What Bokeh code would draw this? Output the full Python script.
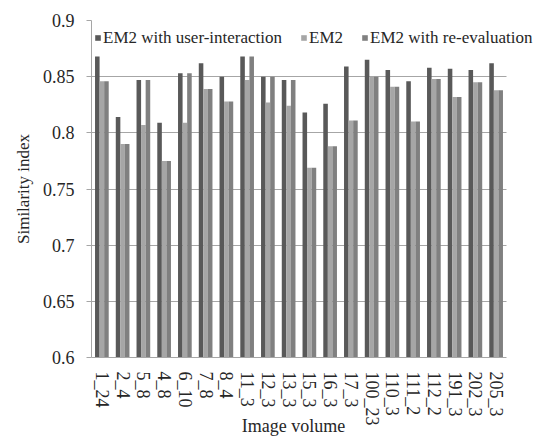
from bokeh.plotting import figure
from bokeh.models import ColumnDataSource, Range1d, FixedTicker, NumeralTickFormatter, CustomJSTickFormatter
from bokeh.transform import dodge
from bokeh.embed import file_html
from bokeh.resources import INLINE

categories = ["1_24", "2_4", "5_8", "4_8", "6_10", "7_8", "8_4", "11_3", "12_3", "13_3",
              "15_3", "16_3", "17_3", "100_23", "110_3", "111_2", "112_2", "191_3", "202_3", "205_3"]

user_interaction = [0.868, 0.814, 0.847, 0.809, 0.853, 0.862, 0.850, 0.868, 0.850, 0.847,
                    0.818, 0.826, 0.859, 0.865, 0.856, 0.846, 0.858, 0.857, 0.856, 0.862]
em2 = [0.846, 0.790, 0.807, 0.775, 0.809, 0.839, 0.828, 0.847, 0.827, 0.824,
       0.769, 0.788, 0.811, 0.850, 0.841, 0.810, 0.848, 0.832, 0.845, 0.838]
re_evaluation = [0.846, 0.790, 0.847, 0.775, 0.853, 0.839, 0.828, 0.868, 0.850, 0.847,
                 0.769, 0.788, 0.811, 0.850, 0.841, 0.810, 0.848, 0.832, 0.845, 0.838]

series_names = ["EM2 with user-interaction", "EM2", "EM2 with re-evaluation"]
y_ticks = [0.6, 0.65, 0.7, 0.75, 0.8, 0.85, 0.9]
x_title = "Image volume"
y_title = "Similarity index"

FONT = "Liberation Serif"
TEXT = "#262626"
GRID = "#a6a6a6"

N = len(categories)
idx = list(range(N))
source = ColumnDataSource(dict(idx=idx, cat=categories, ui=user_interaction, em2=em2, re=re_evaluation))

W, H = 542, 438
left, top, right, bottom = 91, 20, 2, 81
frame_w = W - left - right
data_w = 415  # pixel width occupied by the categories
x_end = -0.5 + N * frame_w / data_w

p = figure(x_range=Range1d(-0.5, x_end), y_range=Range1d(0.6, 0.9),
           width=W, height=H, output_backend="svg", toolbar_location=None,
           min_border_left=left, min_border_right=right, min_border_top=top, min_border_bottom=bottom)
p.outline_line_color = None
p.background_fill_color = "white"

bw = 0.22
p.vbar(x=dodge("idx", -bw), top="ui", width=bw, source=source,
       fill_color="#595959", line_color=None, legend_label=series_names[0])
p.vbar(x=dodge("idx", 0.0), top="em2", width=bw, source=source,
       fill_color="#a6a6a6", line_color=None, legend_label=series_names[1])
p.vbar(x=dodge("idx", bw), top="re", width=bw, source=source,
       fill_color="#808080", line_color=None, legend_label=series_names[2])

# grid
p.xgrid.grid_line_color = None
p.ygrid.ticker = FixedTicker(ticks=y_ticks)
p.ygrid.grid_line_color = GRID
p.ygrid.cross_bounds = (-0.5, N - 0.5)

# y axis
ya = p.yaxis[0]
ya.ticker = FixedTicker(ticks=y_ticks)
ya.formatter = NumeralTickFormatter(format="0.0[0]")
ya.axis_line_color = GRID
ya.major_tick_line_color = GRID
ya.major_tick_out = 5
ya.major_tick_in = 0
ya.minor_tick_line_color = None
ya.major_label_standoff = 12
ya.major_label_text_font = FONT
ya.major_label_text_font_size = "18px"
ya.major_label_text_color = TEXT
ya.axis_label = y_title
ya.axis_label_standoff = 7
ya.axis_label_text_font = FONT
ya.axis_label_text_font_size = "17px"
ya.axis_label_text_font_style = "normal"
ya.axis_label_text_color = TEXT

# x axis
xa = p.xaxis[0]
xa.bounds = (-0.5, N - 0.5)
xa.ticker = FixedTicker(ticks=idx, minor_ticks=[])
xa.formatter = CustomJSTickFormatter(args=dict(labels=categories),
                                     code="const i = Math.round(tick); return (i >= 0 && i < labels.length) ? labels[i] : '';")
xa.axis_line_color = GRID
xa.major_tick_line_color = None
xa.minor_tick_line_color = None
xa.major_tick_out = 0
xa.major_tick_in = 0
xa.major_label_orientation = "vertical"
xa.major_label_standoff = 14
xa.major_label_text_font = FONT
xa.major_label_text_font_size = "18px"
xa.major_label_text_color = TEXT
# the frame is wider than the categories (room for the legend); trailing no-break
# spaces move the centred title back under the categories
xa.axis_label = x_title + "\u00a0" * 10
xa.axis_label_standoff = -13
xa.axis_label_text_font = FONT
xa.axis_label_text_font_size = "18px"
xa.axis_label_text_font_style = "normal"
xa.axis_label_text_color = TEXT

# legend
lg = p.legend[0]
lg.location = "top_left"
lg.orientation = "horizontal"
lg.glyph_width = 7
lg.glyph_height = 7
lg.label_standoff = 2
lg.label_height = 29
lg.spacing = 18
lg.padding = 7
lg.margin = 3
lg.border_line_color = None
lg.background_fill_alpha = 0
lg.label_text_font = FONT
lg.label_text_font_size = "17px"
lg.label_text_color = TEXT

open("out.html", "w").write(file_html(p, INLINE))
